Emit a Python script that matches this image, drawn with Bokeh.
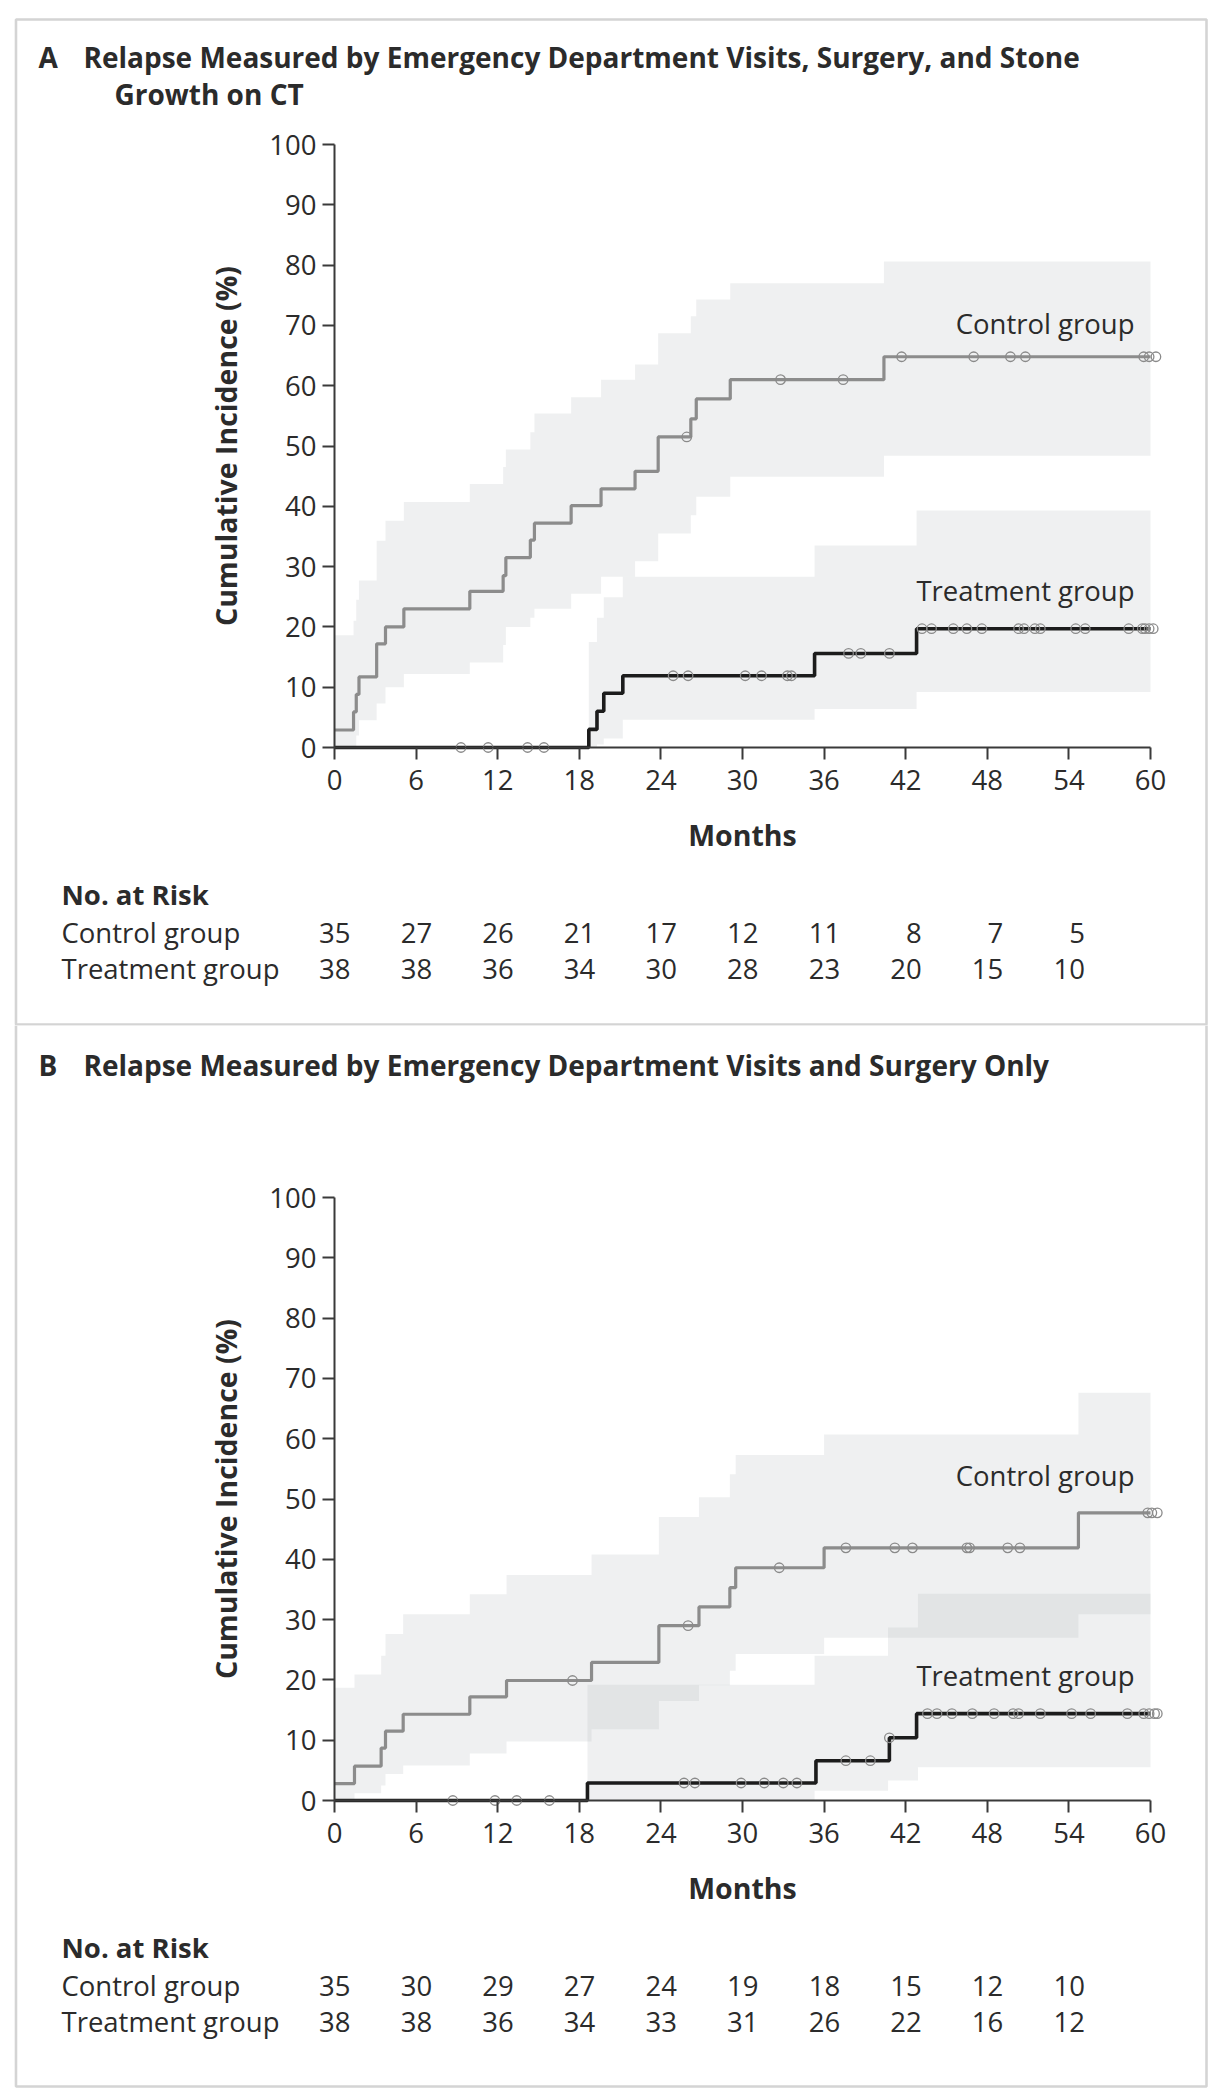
import numpy as np
from bokeh.plotting import figure
from bokeh.layouts import column
from bokeh.models import Label, BoxAnnotation, FixedTicker, Range1d
from bokeh.embed import file_html
from bokeh.resources import INLINE

# ---------------- data ----------------
month_ticks = [0, 6, 12, 18, 24, 30, 36, 42, 48, 54, 60]
pct_ticks = [0, 10, 20, 30, 40, 50, 60, 70, 80, 90, 100]
risk_months = [0, 6, 12, 18, 24, 30, 36, 42, 48, 54]
group_names = ["Control group", "Treatment group"]

# Panel A
a_title = ["Relapse Measured by Emergency Department Visits, Surgery, and Stone", "Growth on CT"]
a_ctrl_t = [0, 1.4, 1.6, 1.8, 3.1, 3.75, 5.1, 9.95, 12.4, 12.6, 14.4, 14.7, 17.4, 19.6, 22.1, 23.8, 26.2, 26.6, 29.1, 40.4, 60]
a_ctrl_est = [2.9, 5.9, 8.8, 11.7, 17.2, 20.0, 23.0, 25.9, 28.5, 31.5, 34.4, 37.2, 40.1, 42.9, 45.8, 51.5, 54.5, 57.8, 61.0, 64.8, 64.8]
a_ctrl_up = [18.6, 21.0, 24.5, 27.7, 34.3, 37.6, 40.7, 43.7, 46.5, 49.4, 52.3, 55.4, 58.1, 61.0, 63.5, 68.7, 71.5, 74.3, 77.0, 80.6, 80.6]
a_ctrl_low = [0, 0, 2.0, 4.5, 7.3, 10.0, 12.2, 14.1, 17.0, 20.0, 21.5, 23.0, 25.5, 28.3, 30.9, 35.5, 38.5, 41.6, 44.9, 48.4, 48.4]
a_ctrl_cens = [25.9, 32.8, 37.4, 41.7, 47.0, 49.7, 50.8, 59.5, 59.9, 60.4]
a_trt_t = [0, 18.7, 19.3, 19.8, 21.2, 35.3, 42.8, 60]
a_trt_est = [0, 3.0, 6.0, 9.0, 11.9, 15.6, 19.7, 19.7]
a_trt_band_t = [18.7, 19.3, 19.8, 21.2, 35.3, 42.8, 60]
a_trt_up = [17.5, 21.5, 24.9, 28.3, 33.5, 39.3, 39.3]
a_trt_low = [0, 0.5, 1.5, 4.6, 6.4, 9.2, 9.2]
a_trt_cens = [9.3, 11.3, 14.2, 15.4, 24.9, 26.0, 30.2, 31.4, 33.3, 33.6, 37.8, 38.7, 40.8,
              43.2, 43.9, 45.5, 46.5, 47.6, 50.3, 50.7, 51.5, 51.9, 54.5, 55.2, 58.4, 59.4, 59.6, 59.9, 60.2]
a_risk_ctrl = [35, 27, 26, 21, 17, 12, 11, 8, 7, 5]
a_risk_trt = [38, 38, 36, 34, 30, 28, 23, 20, 15, 10]

# Panel B
b_title = ["Relapse Measured by Emergency Department Visits and Surgery Only"]
b_ctrl_t = [0, 1.47, 3.43, 3.75, 5.05, 9.95, 12.65, 18.9, 23.85, 26.8, 29.07, 29.5, 36.0, 54.7, 60]
b_ctrl_est = [2.8, 5.7, 8.7, 11.5, 14.3, 17.2, 19.9, 22.9, 29.0, 32.1, 35.3, 38.6, 41.9, 47.7, 47.7]
b_ctrl_up = [18.7, 20.9, 24.0, 27.6, 30.9, 34.2, 37.4, 40.8, 47.0, 50.3, 54.1, 57.3, 60.7, 67.6, 67.6]
b_ctrl_low = [0, 1.2, 2.5, 4.4, 5.8, 7.8, 9.8, 11.8, 16.5, 19.1, 21.5, 24.3, 27.0, 30.9, 30.9]
b_ctrl_cens = [17.5, 26.0, 32.7, 37.6, 41.2, 42.5, 46.5, 46.7, 49.5, 50.4, 59.8, 60.1, 60.5]
b_trt_t = [0, 18.6, 35.4, 40.8, 42.8, 60]
b_trt_est = [0, 2.9, 6.6, 10.4, 14.4, 14.4]
b_trt_band_t = [18.6, 35.3, 40.7, 42.9, 60]
b_trt_up = [19.2, 24.0, 28.7, 34.3, 34.3]
b_trt_low = [0, 1.6, 3.3, 5.5, 5.5]
b_trt_cens = [8.7, 11.8, 13.4, 15.8, 25.7, 26.5, 29.9, 31.6, 33.0, 34.0, 37.6, 39.4, 40.8,
              43.6, 44.3, 45.4, 46.9, 48.5, 49.9, 50.3, 51.9, 54.2, 55.6, 58.3, 59.5, 59.9, 60.3, 60.5]
b_risk_ctrl = [35, 30, 29, 27, 24, 19, 18, 15, 12, 10]
b_risk_trt = [38, 38, 36, 34, 33, 31, 26, 22, 16, 12]

# ---------------- style ----------------
FONT = "Open Sans"
TEXT = "#2b2b2b"
AXIS = "#3a3a3a"
CTRL = "#8c8c8c"
TRT = "#1c1c1c"
BAND = "#b0b3ba"
BORDER = "#707070"
FS = "27.5px"

W = 1215
X0_REF = 334.0          # page x of month 0
PXM = 13.6              # px per month
PXP = 6.03              # px per percent
LBL_DY = 9              # label baseline correction (px)


def level_at(t, v, times):
    idx = np.searchsorted(np.asarray(t), np.asarray(times), side="right") - 1
    return np.asarray(v)[np.clip(idx, 0, None)]


def panel(letter, titles, canvas_top, canvas_h, y0_ref, ctrl, trt, risk, leg_y, box_top, box_bottom):
    x_start = -X0_REF / PXM
    y_start = -(canvas_top + canvas_h - y0_ref) / PXP
    p = figure(width=W, height=canvas_h,
               x_range=Range1d(x_start, x_start + W / PXM),
               y_range=Range1d(y_start, y_start + canvas_h / PXP),
               output_backend="svg", toolbar_location=None, title=None,
               min_border=0, min_border_left=0, min_border_right=0,
               min_border_top=0, min_border_bottom=0)
    p.grid.visible = False
    p.outline_line_color = None
    p.background_fill_color = "white"
    p.border_fill_color = "white"

    def dx(px):
        return (px - X0_REF) / PXM

    def dy(py):
        return (y0_ref - py) / PXP

    def ty(baseline):
        return dy(baseline - LBL_DY)

    # axes, placed at month 0 / 0 %
    for ax, ticks, bnd in ((p.xaxis[0], month_ticks, (0, 60)), (p.yaxis[0], pct_ticks, (0, 100))):
        ax.fixed_location = 0
        ax.ticker = FixedTicker(ticks=ticks)
        ax.bounds = bnd
        ax.axis_line_color = AXIS
        ax.axis_line_width = 2
        ax.major_tick_line_color = AXIS
        ax.major_tick_line_width = 2
        ax.major_tick_out = 12
        ax.major_tick_in = 0
        ax.minor_tick_out = 0
        ax.minor_tick_in = 0
        ax.major_label_text_font = FONT
        ax.major_label_text_font_size = FS
        ax.major_label_text_color = TEXT
        ax.axis_label_text_font = FONT
        ax.axis_label_text_font_size = "28.5px"
        ax.axis_label_text_font_style = "bold"
        ax.axis_label_text_color = TEXT
    p.xaxis.axis_label = "Months"
    p.xaxis.major_label_standoff = 10
    p.xaxis.axis_label_standoff = 23
    p.yaxis.axis_label = "Cumulative Incidence (%)"
    p.yaxis.major_label_standoff = 6
    p.yaxis.axis_label_standoff = 21

    # confidence bands
    for (t, lo, up) in ((ctrl["t"], ctrl["low"], ctrl["up"]), (trt["bt"], trt["low"], trt["up"])):
        p.varea_step(x=t, y1=lo, y2=up, step_mode="after", fill_color=BAND, fill_alpha=0.2)

    # curves
    p.step(x=ctrl["t"], y=ctrl["est"], mode="after", line_color=CTRL, line_width=3.2)
    p.step(x=trt["t"], y=trt["est"], mode="after", line_color=TRT, line_width=3.6)

    # censor marks
    for grp in (ctrl, trt):
        cy = level_at(grp["t"], grp["est"], grp["cens"])
        p.scatter(x=grp["cens"], y=cy, marker="circle", size=9.5, fill_color=None,
                  line_color="#8a8a8a", line_width=1.3)

    # group labels
    for name, ly in zip(group_names, leg_y):
        p.add_layout(Label(x=dx(1134), y=ty(ly), text=name, text_align="right", text_baseline="alphabetic",
                           text_font=FONT, text_font_size=FS, text_color=TEXT))

    # title
    p.add_layout(Label(x=dx(38), y=ty(titles[0][1]), text=letter, text_baseline="alphabetic",
                       text_font=FONT, text_font_size="28px", text_font_style="bold", text_color=TEXT))
    for (txt, by, bx) in titles:
        p.add_layout(Label(x=dx(bx), y=ty(by), text=txt, text_baseline="alphabetic",
                           text_font=FONT, text_font_size="28px", text_font_style="bold", text_color=TEXT))

    # number at risk
    head_y, row_y = risk["head_y"], risk["row_y"]
    p.add_layout(Label(x=dx(61), y=ty(head_y), text="No. at Risk", text_baseline="alphabetic",
                       text_font=FONT, text_font_size=FS, text_font_style="bold", text_color=TEXT))
    for name, ry, counts in zip(group_names, row_y, risk["rows"]):
        p.add_layout(Label(x=dx(61), y=ty(ry), text=name, text_baseline="alphabetic",
                           text_font=FONT, text_font_size=FS, text_color=TEXT))
        for m, n in zip(risk_months, counts):
            p.add_layout(Label(x=m, y=ty(ry), x_offset=16, text=str(n), text_align="right",
                               text_baseline="alphabetic", text_font=FONT, text_font_size=FS,
                               text_color=TEXT))

    # panel border
    p.add_layout(BoxAnnotation(left=dx(15.5), right=dx(1206), top=dy(box_top), bottom=dy(box_bottom),
                               fill_alpha=0, line_color=BORDER, line_width=2.6))
    return p


pa = panel("A", [(a_title[0], 65, 83), (a_title[1], 102, 114)], 0, 1025, 747,
           dict(t=a_ctrl_t, est=a_ctrl_est, up=a_ctrl_up, low=a_ctrl_low, cens=a_ctrl_cens),
           dict(t=a_trt_t, est=a_trt_est, bt=a_trt_band_t, up=a_trt_up, low=a_trt_low, cens=a_trt_cens),
           dict(head_y=903, row_y=[941, 977], rows=[a_risk_ctrl, a_risk_trt]),
           [332, 599], 19, 1024)

pb = panel("B", [(b_title[0], 1073, 83)], 1025, 1070, 1800,
           dict(t=b_ctrl_t, est=b_ctrl_est, up=b_ctrl_up, low=b_ctrl_low, cens=b_ctrl_cens),
           dict(t=b_trt_t, est=b_trt_est, bt=b_trt_band_t, up=b_trt_up, low=b_trt_low, cens=b_trt_cens),
           dict(head_y=1956, row_y=[1994, 2030], rows=[b_risk_ctrl, b_risk_trt]),
           [1484, 1684], 1024, 2086)

layout = column(pa, pb, spacing=0)
open("out.html", "w").write(file_html(layout, INLINE))
